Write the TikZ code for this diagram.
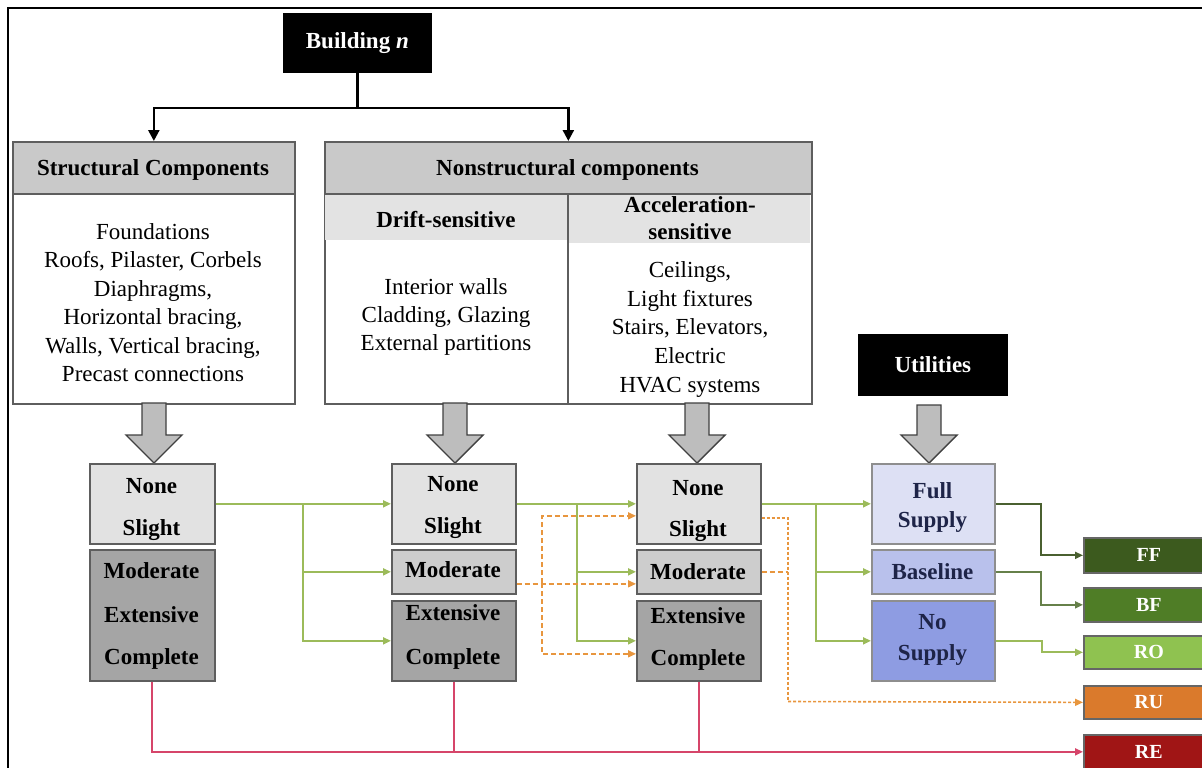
\documentclass[tikz,border=0pt]{standalone}
\usepackage{fontspec}
\setmainfont{Liberation Serif}
\usetikzlibrary{arrows.meta,calc}
\definecolor{hdrgray}{HTML}{C9C9C9}
\definecolor{subgray}{HTML}{E3E3E3}
\definecolor{lightbox}{HTML}{E2E2E2}
\definecolor{midbox}{HTML}{CDCDCD}
\definecolor{darkbox}{HTML}{A5A5A5}
\definecolor{edgegray}{HTML}{5E5E5E}
\definecolor{fullsup}{HTML}{DDE0F4}
\definecolor{basesup}{HTML}{B9C1EC}
\definecolor{nosup}{HTML}{8E9CE2}
\definecolor{navytext}{HTML}{1E2448}
\definecolor{ffcol}{HTML}{3C5A1E}
\definecolor{bfcol}{HTML}{4F7D26}
\definecolor{rocol}{HTML}{8FC250}
\definecolor{rucol}{HTML}{DA7A2C}
\definecolor{recol}{HTML}{A01515}
\definecolor{gline}{HTML}{9CBB5A}
\definecolor{gdark}{HTML}{4A6030}
\definecolor{gmid}{HTML}{66804A}
\definecolor{oline}{HTML}{E8963E}
\definecolor{rline}{HTML}{D6456A}
\newcommand\blockarr[4]{%
  \draw[blockarrow] ({#1-12},#2) -- ({#1+12},#2) -- ({#1+12},#3) -- ({#1+28},#3)
    -- (#1,#4) -- ({#1-28},#3) -- ({#1-12},#3) -- cycle;}
\begin{document}
\begin{tikzpicture}[x=1pt,y=-1pt,
  bx/.style={draw=edgegray, line width=1.7pt, inner sep=0pt, anchor=north west},
  blk/.style={bx, draw=black, fill=black, text=white},
  txt/.style={font=\fontsize{23}{28}\selectfont, anchor=base, inner sep=0pt},
  btxt/.style={txt, font=\fontsize{23}{28}\selectfont\bfseries},
  otxt/.style={font=\fontsize{20}{24}\selectfont\bfseries, text=white},
  blockarrow/.style={fill=black!26, draw=black!75, line width=1.4pt, line join=miter},
  barrow/.style={draw=black, line width=2.4pt, -{Triangle[length=11pt,width=11pt]}},
  gcon/.style={draw=gline, line width=1.9pt, -{Triangle[length=8pt,width=7pt]}},
  ocon/.style={draw=oline, line width=1.5pt, dash pattern=on 5pt off 3pt, -{Triangle[length=8pt,width=7pt]}},
  oplain/.style={draw=oline, line width=1.5pt, dash pattern=on 5pt off 3pt},
  odot/.style={draw=oline, line width=1.6pt, dash pattern=on 3pt off 2pt},
  rcon/.style={draw=rline, line width=1.9pt},
]
\useasboundingbox (0,0) rectangle (1202,768);
\clip (0,0) rectangle (1202,768);
% frame
\draw[line width=2pt] (8,775) -- (8,8) -- (1210,8);

% Building n
\node[blk, minimum width=147pt, minimum height=58pt, font=\fontsize{23}{28}\selectfont\bfseries] (building) at (283,13) {Building \textit{n}};

% Structural components
\node[bx, fill=white, minimum width=282pt, minimum height=262pt] (sc) at (12,141) {};
\node[bx, fill=hdrgray, minimum width=282pt, minimum height=52pt] (sch) at (12,141) {};
\node[btxt] (schtxt) at (153,175.5) {Structural Components};
\foreach \t [count=\i] in {Foundations, {Roofs, Pilaster, Corbels}, {Diaphragms,}, {Horizontal bracing,}, {Walls, Vertical bracing,}, Precast connections}
  \node[txt] (sct\i) at (153,{239.5+(\i-1)*28.4}) {\t};

% Nonstructural components
\node[bx, fill=white, minimum width=487pt, minimum height=262pt] (ns) at (324,141) {};
\fill[subgray] (325,193) rectangle (567.5,240);
\fill[subgray] (568.5,193) rectangle (810,243);
\node[bx, fill=hdrgray, minimum width=487pt, minimum height=52pt] (nsh) at (324,141) {};
\draw[edgegray, line width=1.3pt] (568,193) -- (568,403);
\node[btxt] (nshtxt) at (567.5,175.5) {Nonstructural components};
\node[btxt] (drift) at (446,227.5) {Drift-sensitive};
\node[btxt] (acc1) at (690,212.5) {Acceleration-};
\node[btxt] (acc2) at (690,239.5) {sensitive};
\foreach \t [count=\i] in {Interior walls, {Cladding, Glazing}, External partitions}
  \node[txt] (dst\i) at (446,{294.5+(\i-1)*28.2}) {\t};
\foreach \t [count=\i] in {{Ceilings,}, Light fixtures, {Stairs, Elevators,}, Electric, HVAC systems}
  \node[txt] (ast\i) at (690,{277.5+(\i-1)*28.7}) {\t};

% Utilities
\node[blk, minimum width=148pt, minimum height=60pt, font=\fontsize{23}{28}\selectfont\bfseries] (util) at (858,334) {Utilities};

% block arrows
\blockarr{154}{403}{435}{463}
\blockarr{455}{403}{435}{463}
\blockarr{697}{403}{435}{463}
\blockarr{929}{405}{435}{463}

% damage state boxes
\node[bx, fill=lightbox, minimum width=125pt, minimum height=80pt] (c1a) at (89,463) {};
\node[bx, fill=darkbox, minimum width=125pt, minimum height=131pt] (c1b) at (89,549) {};
\node[bx, fill=lightbox, minimum width=124pt, minimum height=80pt] (c2a) at (391,463) {};
\node[bx, fill=midbox, minimum width=124pt, minimum height=44pt] (c2b) at (391,549) {};
\node[bx, fill=darkbox, minimum width=124pt, minimum height=80pt] (c2c) at (391,600) {};
\node[bx, fill=lightbox, minimum width=124pt, minimum height=80pt] (c3a) at (636,463) {};
\node[bx, fill=midbox, minimum width=124pt, minimum height=44pt] (c3b) at (636,549) {};
\node[bx, fill=darkbox, minimum width=124pt, minimum height=80pt] (c3c) at (636,600) {};
\node[bx, draw=edgegray!70, fill=fullsup, minimum width=123pt, minimum height=80pt] (c4a) at (871,463) {};
\node[bx, draw=edgegray!70, fill=basesup, minimum width=123pt, minimum height=44pt] (c4b) at (871,549) {};
\node[bx, draw=edgegray!70, fill=nosup, minimum width=123pt, minimum height=80pt] (c4c) at (871,600) {};

\node[btxt] (l1a) at (151.5,493.5) {None};
\node[btxt] (l1b) at (151.5,535.5) {Slight};
\node[btxt] (l1c) at (151.5,578.5) {Moderate};
\node[btxt] (l1d) at (151.5,622.5) {Extensive};
\node[btxt] (l1e) at (151.5,664.5) {Complete};
\node[btxt] (l2a) at (453,491.5) {None};
\node[btxt] (l2b) at (453,533.5) {Slight};
\node[btxt] (l2c) at (453,577.5) {Moderate};
\node[btxt] (l2d) at (453,620.5) {Extensive};
\node[btxt] (l2e) at (453,664.5) {Complete};
\node[btxt] (l3a) at (698,495.5) {None};
\node[btxt] (l3b) at (698,536.5) {Slight};
\node[btxt] (l3c) at (698,579.5) {Moderate};
\node[btxt] (l3d) at (698,623.5) {Extensive};
\node[btxt] (l3e) at (698,665.5) {Complete};
\node[btxt, text=navytext] (l4a) at (932.5,498.5) {Full};
\node[btxt, text=navytext] (l4b) at (932.5,527.5) {Supply};
\node[btxt, text=navytext] (l4c) at (932.5,579.5) {Baseline};
\node[btxt, text=navytext] (l4d) at (932.5,629.5) {No};
\node[btxt, text=navytext] (l4e) at (932.5,660.5) {Supply};

% outcome boxes
\node[bx, draw=black!60, fill=ffcol, minimum width=130pt, minimum height=35pt, otxt] (FF) at (1083,537) {FF};
\node[bx, draw=black!60, fill=bfcol, minimum width=130pt, minimum height=34pt, otxt] (BF) at (1083,587) {BF};
\node[bx, draw=black!60, fill=rocol, minimum width=130pt, minimum height=33pt, otxt] (RO) at (1083,635) {RO};
\node[bx, draw=black!60, fill=rucol, minimum width=130pt, minimum height=33pt, otxt] (RU) at (1083,685) {RU};
\node[bx, draw=black!60, fill=recol, minimum width=130pt, minimum height=34pt, otxt] (RE) at (1083,734) {RE};

% building connectors
\coordinate (bj) at ($(building.south)+(0,35)$);
\draw[draw=black, line width=2.4pt] (building.south) -- (bj);
\draw[barrow] (bj) -| (sch.north);
\draw[barrow] (bj) -| (nsh.north);

% green connectors
\coordinate (j1) at (303,503);
\draw[gcon] (c1a.east) -- (c2a.west);
\draw[gcon] (j1) |- (c2b.west);
\draw[gcon] (j1) |- (c2c.west);
\coordinate (j2) at (577,503);
\draw[gcon] (c2a.east) -- (c3a.west);
\draw[gcon] (j2) |- (c3b.west);
\draw[gcon] (j2) |- (c3c.west);
\coordinate (j3) at (816,503);
\draw[gcon] (c3a.east) -- (c4a.west);
\draw[gcon] (j3) |- (c4b.west);
\draw[gcon] (j3) |- (c4c.west);

% utility -> outcomes
\draw[gcon, draw=gdark] (c4a.east) -- ++(45,0) |- (FF.west);
\draw[gcon, draw=gmid] (c4b.east) -- ++(45,0) |- (BF.west);
\draw[gcon] (c4c.east) -- ++(46,0) |- (RO.west);

% orange dashed connectors
\coordinate (o1) at (542,583);
\draw[ocon] ([yshift=-12pt]c2b.east) -- ([yshift=-12pt]c3b.west);
\draw[ocon] (o1) |- ([yshift=-12pt]c3a.west);
\draw[ocon] (o1) |- ([yshift=-13pt]c3c.west);
\coordinate (o2) at (788,701.5);
\draw[odot] ([yshift=-14pt]c3a.east) -| (o2);
\draw[oplain] (c3b.east) -- (c3b.east -| o2);
\draw[odot, -{Triangle[length=8pt,width=7pt]}] (o2) -- (RU.west);

% red connectors
\draw[rcon, -{Triangle[length=8pt,width=7pt]}] (c1b.south) |- (RE.west);
\draw[rcon] (c2c.south) -- (c2c.south |- RE.west);
\draw[rcon] (c3c.south) -- (c3c.south |- RE.west);
\end{tikzpicture}
\end{document}
